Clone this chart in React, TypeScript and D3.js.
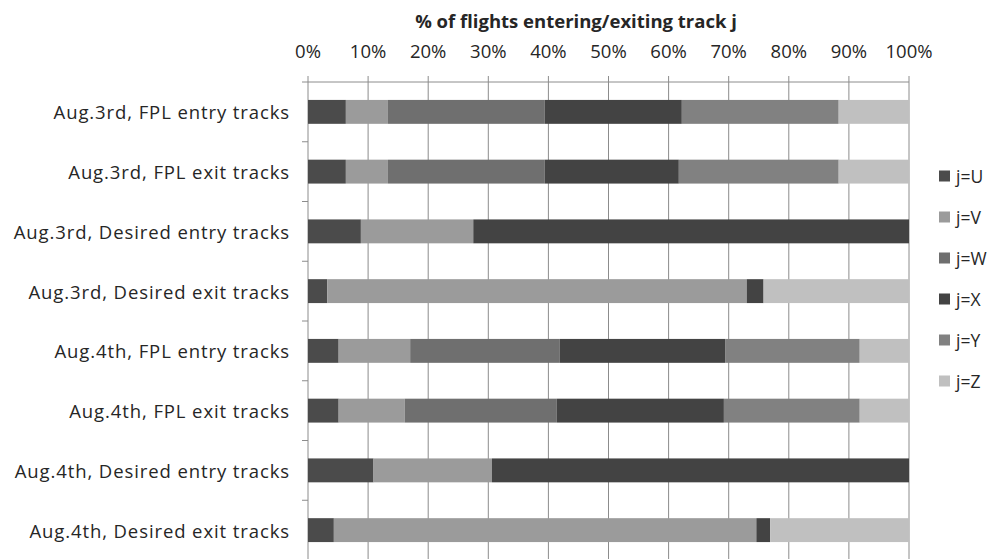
import React from "react";
import * as d3 from "d3";

const categories = [
  "Aug.3rd, FPL entry tracks",
  "Aug.3rd, FPL exit tracks",
  "Aug.3rd, Desired entry tracks",
  "Aug.3rd, Desired exit tracks",
  "Aug.4th, FPL entry tracks",
  "Aug.4th, FPL exit tracks",
  "Aug.4th, Desired entry tracks",
  "Aug.4th, Desired exit tracks",
];

const seriesNames = ["j=U", "j=V", "j=W", "j=X", "j=Y", "j=Z"];

const valuesU = [6.3, 6.3, 8.8, 3.2, 5.1, 5.1, 10.9, 4.3];
const valuesV = [7.0, 7.0, 18.7, 69.8, 11.9, 11.0, 19.7, 70.3];
const valuesW = [26.1, 26.1, 0, 0, 24.9, 25.3, 0, 0];
const valuesX = [22.8, 22.3, 72.5, 2.8, 27.5, 27.8, 69.4, 2.3];
const valuesY = [26.1, 26.6, 0, 0, 22.4, 22.6, 0, 0];
const valuesZ = [11.7, 11.7, 0, 24.2, 8.2, 8.2, 0, 23.1];

const tickLabels = ["0%", "10%", "20%", "30%", "40%", "50%", "60%", "70%", "80%", "90%", "100%"];

const colors = ["#4b4b4b", "#9b9b9b", "#6f6f6f", "#434343", "#818181", "#c0c0c0"];

const FONT = "'Open Sans', Lato, sans-serif";

export default function App() {
  const W = 996;
  const H = 559;
  const left = 308;
  const right = 909;
  const top = 82;
  const bottom = 560;

  const allSeries = [valuesU, valuesV, valuesW, valuesX, valuesY, valuesZ];
  const rows = categories.map((c, i) => {
    const r: any = { cat: c };
    seriesNames.forEach((s, k) => (r[s] = allSeries[k][i]));
    return r;
  });
  const stack = d3.stack<any>().keys(seriesNames)(rows);

  const x = d3.scaleLinear().domain([0, 100]).range([left, right]);
  const y = d3
    .scaleBand<string>()
    .domain(categories)
    .range([top, bottom])
    .paddingInner(0.6)
    .paddingOuter(0.3);
  const step = y.step();
  const ticks = d3.range(0, 101, 10);
  const gridColor = "#8c8c8c";
  const textColor = "#262626";

  return (
    <svg
      width={W}
      height={H}
      style={{ position: "absolute", left: 0, top: 0, background: "#fff", display: "block" }}
      fontFamily={FONT}
    >
      <rect x={0} y={0} width={W} height={H} fill="#fff" />
      {ticks.map((t) => (
        <line key={"g" + t} x1={x(t)} x2={x(t)} y1={top - 6} y2={bottom} stroke={gridColor} strokeWidth={1} />
      ))}
      <line x1={left} x2={right} y1={top} y2={top} stroke={gridColor} strokeWidth={1} />
      {d3.range(0, categories.length + 1).map((i) => (
        <line
          key={"yt" + i}
          x1={left - 6}
          x2={left}
          y1={top + i * step}
          y2={top + i * step}
          stroke={gridColor}
          strokeWidth={1}
        />
      ))}
      {stack.map((layer, k) => (
        <g key={layer.key} fill={colors[k]}>
          {layer.map((d, i) =>
            d[1] - d[0] > 0 ? (
              <rect
                key={i}
                x={x(d[0])}
                width={x(d[1]) - x(d[0])}
                y={y(categories[i])}
                height={y.bandwidth()}
              />
            ) : null
          )}
        </g>
      ))}
      {ticks.map((t, i) => (
        <text
          key={"xl" + t}
          x={x(t)}
          y={50}
          textAnchor="middle"
          dominantBaseline="central"
          fontSize={18.5}
          fill={textColor}
        >
          {tickLabels[i]}
        </text>
      ))}
      <text x={576} y={20} textAnchor="middle" dominantBaseline="central" fontSize={18.5} fontWeight="bold" fill={textColor}>
        % of flights entering/exiting track j
      </text>
      {categories.map((c) => (
        <text
          key={c}
          x={290}
          y={(y(c) as number) + y.bandwidth() / 2}
          textAnchor="end"
          dominantBaseline="central"
          fontSize={18.5}
          letterSpacing={0.9}
          fill={textColor}
        >
          {c}
        </text>
      ))}
      {seriesNames.map((s, k) => (
        <g key={s} transform={`translate(939, ${176 + k * 41})`}>
          <rect x={0} y={-5.5} width={11} height={11} fill={colors[k]} />
          <text x={17} y={0} dominantBaseline="central" fontSize={17.5} fill={textColor}>
            {s}
          </text>
        </g>
      ))}
    </svg>
  );
}
